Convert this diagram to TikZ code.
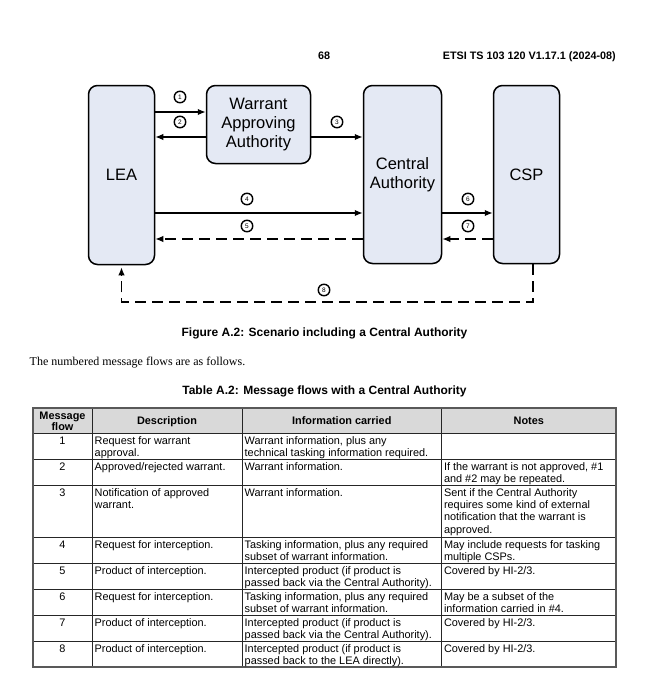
\documentclass[tikz,border=0pt]{standalone}
\usepackage{fontspec}
\setmainfont{Liberation Serif}
\setsansfont{Liberation Sans}
\usepackage{tikz}
\usetikzlibrary{%
  arrows.meta,%
  calc%
}
\definecolor{boxfill}{HTML}{E4E9F4}
\definecolor{headfill}{HTML}{D9D9D9}
\newcommand{\fsz}[2]{\fontsize{#1}{#2}\selectfont}
\newcommand{\cell}[1]{\parbox[t]{200pt}{\raggedright #1}}

\begin{document}
\begin{tikzpicture}[x=1pt, y=-1pt,
  >={Latex[length=8pt,width=6.5pt]},
  block/.style={draw, line width=1.5pt, fill=boxfill, rounded corners=9pt, align=center, inner sep=0pt, font=\sffamily\fsz{16.5}{19.2}},
  msg/.style={draw, circle, line width=1.4pt, inner sep=0pt, minimum size=11.5pt, font=\sffamily\fsz{6.5}{6.5}},
  flow/.style={line width=1.5pt},
  back/.style={line width=1.5pt, dash pattern=on 11pt off 6pt},
  title/.style={inner sep=0pt, anchor=base, font=\sffamily\bfseries\fsz{12}{14}},
  head/.style={inner sep=0pt, anchor=base, font=\sffamily\bfseries\fsz{10.9}{11.5}},
  num/.style={inner sep=0pt, anchor=base, font=\sffamily\fsz{10.9}{12.4}},
  txt/.style={inner sep=0pt, anchor=base west, font=\sffamily\fsz{10.9}{12.4}},
  grid/.style={line width=0.8pt, black!85},
  frame/.style={line width=1.5pt, black!65}]
\useasboundingbox (0,0) rectangle (647,680);

% page header
\node[head, font=\sffamily\bfseries\fsz{10.8}{13}] (page) at (324.2,59) {68};
\node[head, anchor=base east, font=\sffamily\bfseries\fsz{10.8}{13}] (docid) at (616,59) {ETSI TS 103 120 V1.17.1 (2024-08)};

% boxes
\node[block, minimum width=66pt, minimum height=179pt] (lea) at (121.5,175) {LEA};
\node[block, minimum width=104pt, minimum height=78pt] (war) at (258.5,124.5) {Warrant\\Approving\\Authority};
\node[block, minimum width=78pt, minimum height=178pt] (ca) at (402.5,174.5) {Central\\Authority};
\node[block, minimum width=66pt, minimum height=178pt] (csp) at (526.5,174.5) {CSP};

\coordinate (f1) at (0,112);
\coordinate (f2) at (0,137);
\coordinate (f4) at (0,213);
\coordinate (f5) at (0,239);
\coordinate (f8) at (533,302);

\draw[flow,->] (lea.east |- f1) -- (war.west |- f1);
\draw[flow,->] (war.west |- f2) -- (lea.east |- f2);
\draw[flow,->] (war.east |- f2) -- (ca.west |- f2);
\draw[flow,->] (lea.east |- f4) -- (ca.west |- f4);
\draw[back,->] (ca.west |- f5) -- (lea.east |- f5);
\draw[flow,->] (ca.east |- f4) -- (csp.west |- f4);
\draw[back,->] (csp.west |- f5) -- (ca.east |- f5);
\draw[back,->,shorten >=2pt] (csp.south -| f8) |- (lea.south |- f8) -- (lea.south);

% message numbers
\node[msg] (m1) at (180,97) {1};
\node[msg] (m2) at (180,122) {2};
\node[msg] (m3) at (337,122) {3};
\node[msg] (m4) at (247,199) {4};
\node[msg] (m5) at (247,226) {5};
\node[msg] (m6) at (468,199) {6};
\node[msg] (m7) at (468,226) {7};
\node[msg] (m8) at (324,290) {8};

\node[title] (figcap) at (324.5,336) {Figure A.2: Scenario including a Central Authority};
\node[txt, font=\fsz{12}{14}] (intro) at (29.5,365) {The numbered message flows are as follows.};
\node[title] (tabcap) at (324.5,394) {Table A.2: Message flows with a Central Authority};

% table
\fill[headfill] (33,408) rectangle (616,433);
\foreach \y in {433,459,485,537,563,589,615,641}
  \draw[grid] (33,\y) -- (616,\y);
\foreach \x in {92,242,441.5}
  \draw[grid] (\x,408) -- (\x,667);
\draw[frame] (33,408) rectangle (616,667);

\node[head] (hflow) at (62.5,419) {\parbox[t]{58pt}{\centering Message\\flow}};
\node[head] (hdesc) at (167,424.5) {Description};
\node[head] (hinfo) at (341.8,424.5) {Information carried};
\node[head] (hnote) at (528.8,424.5) {Notes};

\node[num] (flow1) at (62.5,444) {1};
\node[txt] (desc1) at (94.5,444) {\cell{Request for warrant\\approval.}};
\node[txt] (info1) at (244.5,444) {\cell{Warrant information, plus any\\technical tasking information required.}};

\node[num] (flow2) at (62.5,470) {2};
\node[txt] (desc2) at (94.5,470) {\cell{Approved/rejected warrant.}};
\node[txt] (info2) at (244.5,470) {\cell{Warrant information.}};
\node[txt] (note2) at (443.8,470) {\cell{If the warrant is not approved, \#1\\and \#2 may be repeated.}};

\node[num] (flow3) at (62.5,496) {3};
\node[txt] (desc3) at (94.5,496) {\cell{Notification of approved\\warrant.}};
\node[txt] (info3) at (244.5,496) {\cell{Warrant information.}};
\node[txt] (note3) at (443.8,496) {\cell{Sent if the Central Authority\\requires some kind of external\\notification that the warrant is\\approved.}};

\node[num] (flow4) at (62.5,548) {4};
\node[txt] (desc4) at (94.5,548) {\cell{Request for interception.}};
\node[txt] (info4) at (244.5,548) {\cell{Tasking information, plus any required\\subset of warrant information.}};
\node[txt] (note4) at (443.8,548) {\cell{May include requests for tasking\\multiple CSPs.}};

\node[num] (flow5) at (62.5,574) {5};
\node[txt] (desc5) at (94.5,574) {\cell{Product of interception.}};
\node[txt] (info5) at (244.5,574) {\cell{Intercepted product (if product is\\passed back via the Central Authority).}};
\node[txt] (note5) at (443.8,574) {\cell{Covered by HI-2/3.}};

\node[num] (flow6) at (62.5,600) {6};
\node[txt] (desc6) at (94.5,600) {\cell{Request for interception.}};
\node[txt] (info6) at (244.5,600) {\cell{Tasking information, plus any required\\subset of warrant information.}};
\node[txt] (note6) at (443.8,600) {\cell{May be a subset of the\\information carried in \#4.}};

\node[num] (flow7) at (62.5,626) {7};
\node[txt] (desc7) at (94.5,626) {\cell{Product of interception.}};
\node[txt] (info7) at (244.5,626) {\cell{Intercepted product (if product is\\passed back via the Central Authority).}};
\node[txt] (note7) at (443.8,626) {\cell{Covered by HI-2/3.}};

\node[num] (flow8) at (62.5,652) {8};
\node[txt] (desc8) at (94.5,652) {\cell{Product of interception.}};
\node[txt] (info8) at (244.5,652) {\cell{Intercepted product (if product is\\passed back to the LEA directly).}};
\node[txt] (note8) at (443.8,652) {\cell{Covered by HI-2/3.}};
\end{tikzpicture}
\end{document}
